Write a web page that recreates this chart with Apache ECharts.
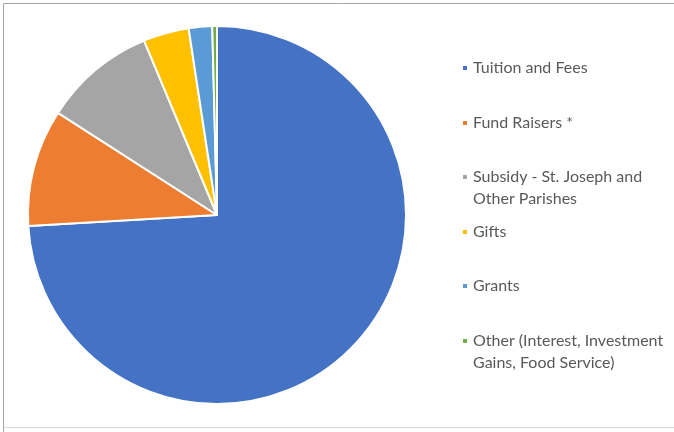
<!DOCTYPE html>
<html>
<head>
<meta charset="utf-8">
<script src="https://cdn.jsdelivr.net/npm/echarts@6/dist/echarts.min.js"></script>
<style>
html,body{margin:0;padding:0;background:#fff;}
#c{width:674px;height:432px;}
</style>
</head>
<body>
<div id="c"></div>
<script>
var categories = ['Tuition and Fees', 'Fund Raisers *', 'Subsidy - St. Joseph and Other Parishes', 'Gifts', 'Grants', 'Other (Interest, Investment Gains, Food Service)'];
var legendLabels = ['Tuition and Fees', 'Fund Raisers *', 'Subsidy - St. Joseph and\nOther Parishes', 'Gifts', 'Grants', 'Other (Interest, Investment\nGains, Food Service)'];
var values = [74.0, 10.0, 9.6, 3.9, 2.0, 0.4];
var colors = ['#4472C4', '#ED7D31', '#A5A5A5', '#FFC000', '#5B9BD5', '#70AD47'];

var chart = echarts.init(document.getElementById('c'));
var legendTops = [57, 112, 144, 221, 275, 308];
var legends = categories.map(function (name, i) {
  var twoLine = legendLabels[i].indexOf('\n') >= 0;
  return {
    orient: 'vertical',
    left: 461,
    top: legendTops[i],
    padding: 0,
    itemWidth: 6,
    itemHeight: 6,
    icon: 'rect',
    selectedMode: false,
    data: [name],
    formatter: function () { return twoLine ? '\u00a0\n' + legendLabels[i] : legendLabels[i]; },
    textStyle: {
      fontFamily: 'Lato',
      fontSize: 16,
      lineHeight: 22,
      color: '#595959'
    }
  };
});

chart.setOption({
  animation: false,
  color: colors,
  legend: legends,
  graphic: [
    { type: 'line', shape: { x1: 3.5, y1: 3.5, x2: 674, y2: 3.5 }, style: { stroke: '#a6a6a6', lineWidth: 1 } },
    { type: 'line', shape: { x1: 3.5, y1: 3.5, x2: 3.5, y2: 432 }, style: { stroke: '#a6a6a6', lineWidth: 1 } },
    { type: 'line', shape: { x1: 4, y1: 427.5, x2: 674, y2: 427.5 }, style: { stroke: '#d9d9d9', lineWidth: 1 } }
  ],
  series: [{
    type: 'pie',
    center: [217, 215],
    radius: [0, 189],
    startAngle: 90,
    clockwise: true,
    label: { show: false },
    labelLine: { show: false },
    emphasis: { disabled: true },
    itemStyle: { borderColor: '#ffffff', borderWidth: 2 },
    data: categories.map(function (n, i) { return { name: n, value: values[i] }; })
  }]
});
</script>
</body>
</html>
